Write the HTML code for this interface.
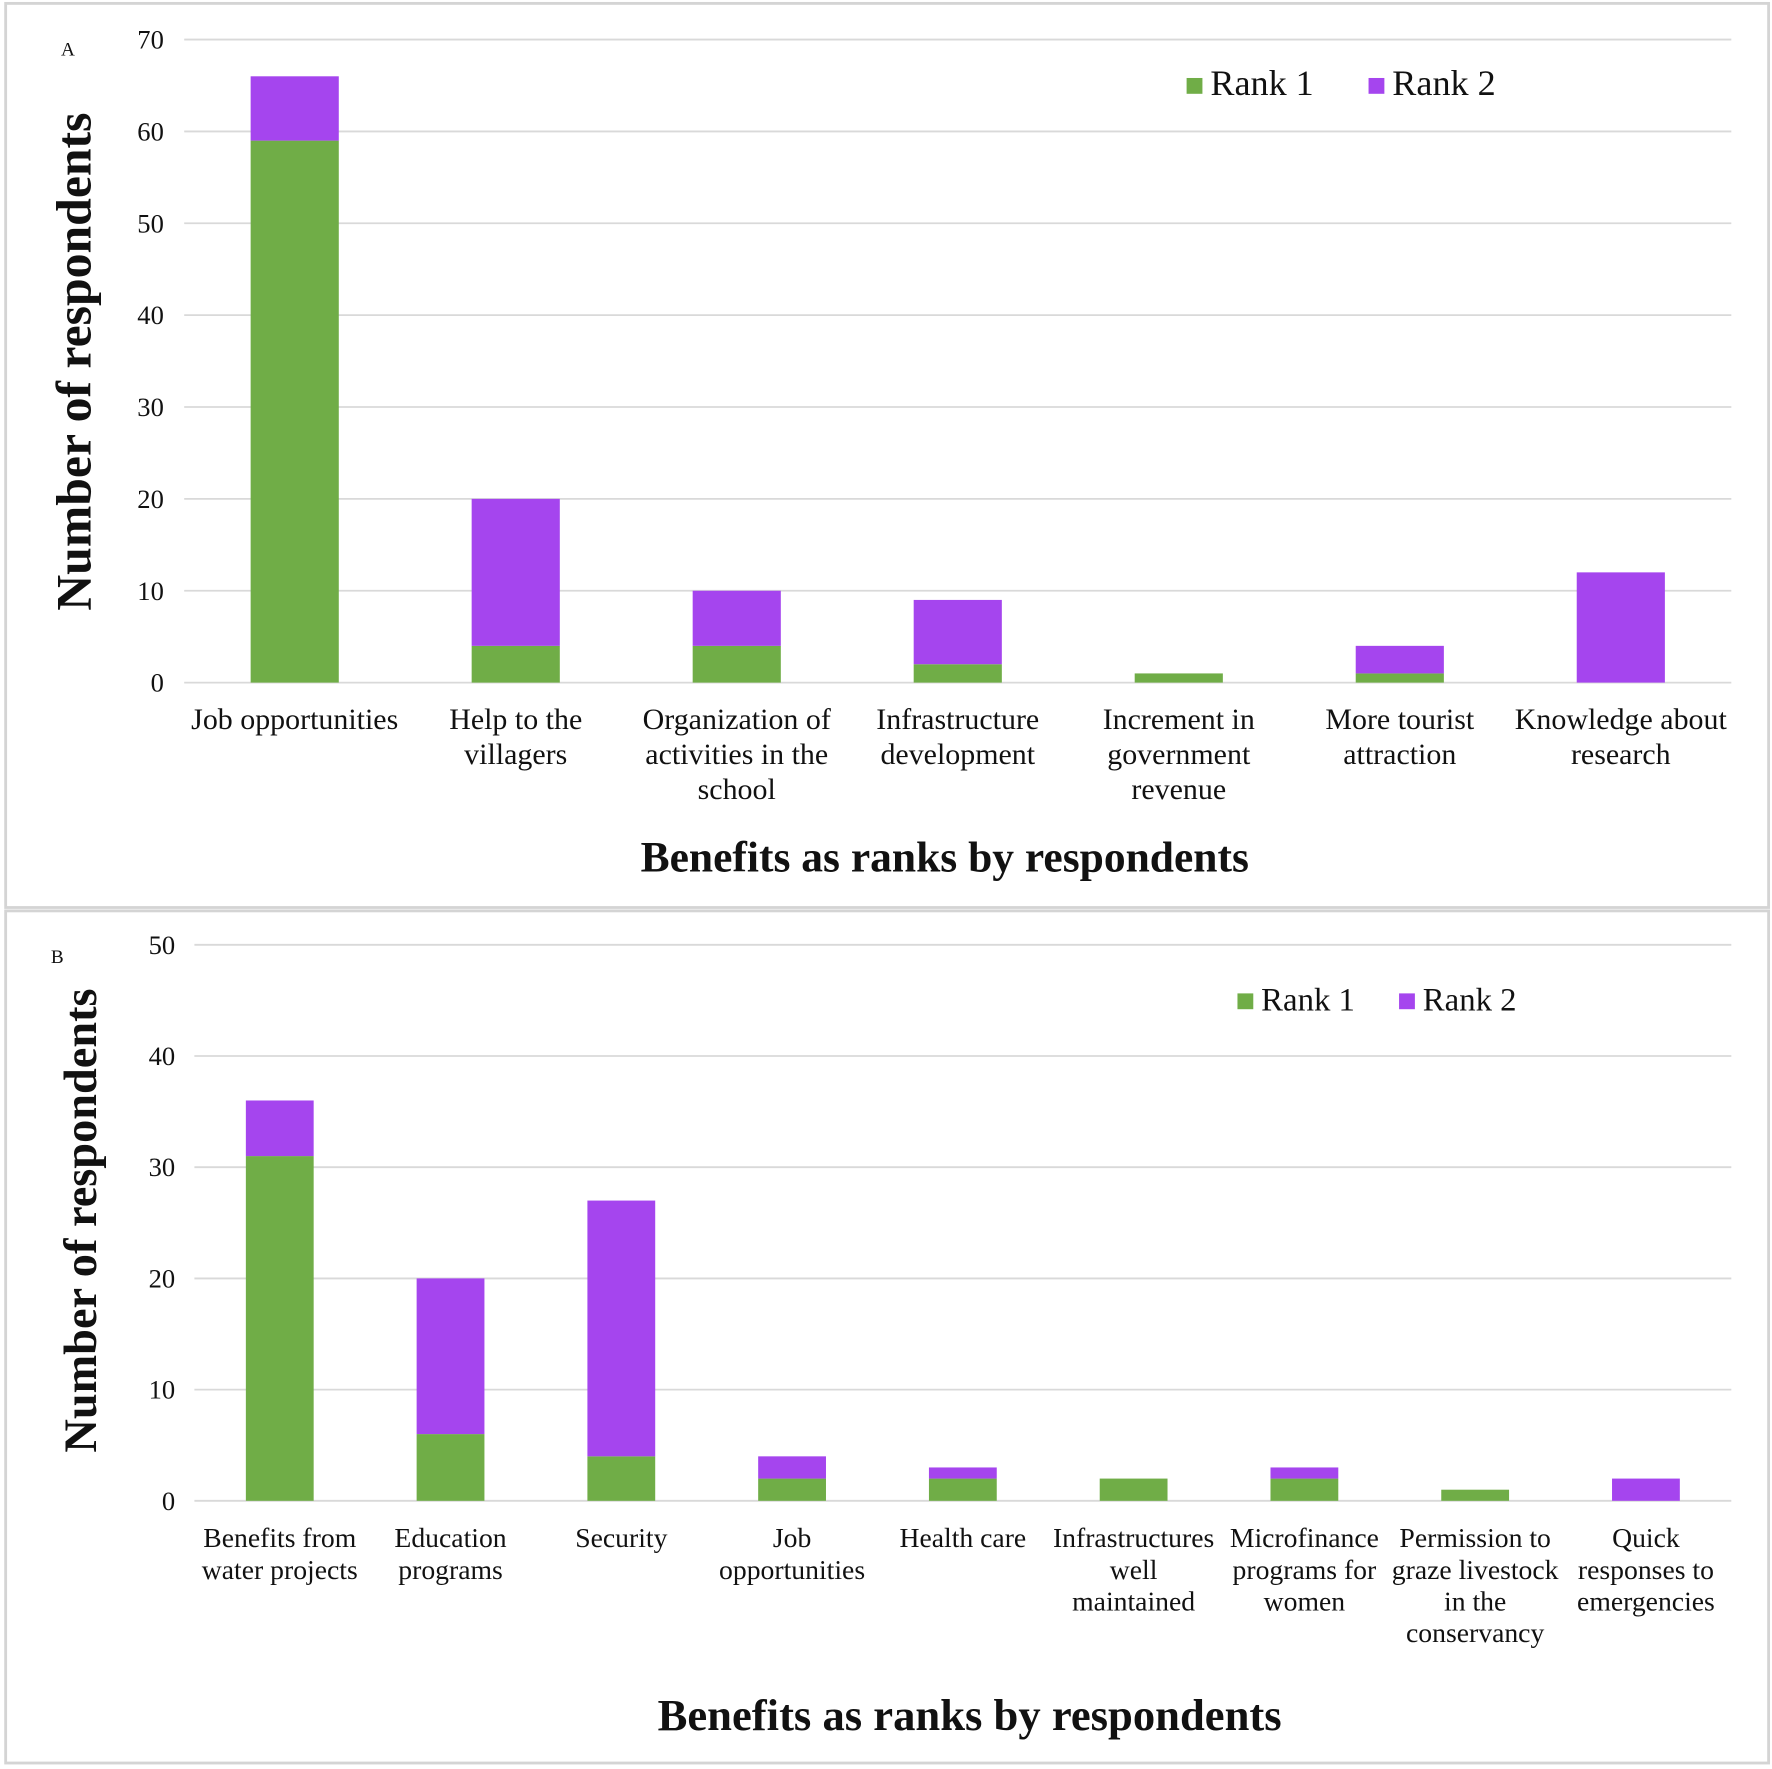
<!DOCTYPE html>
<html><head><meta charset="utf-8"><style>
html,body{margin:0;padding:0;background:#fff;width:1772px;height:1769px;overflow:hidden}
svg{display:block}
text{font-family:"Liberation Serif",serif;fill:#111}
</style></head><body>
<svg id="fig" width="1772" height="1769" viewBox="0 0 1568 1565.3" preserveAspectRatio="none" xmlns="http://www.w3.org/2000/svg">
<rect x="5" y="3" width="1560" height="800" fill="none" stroke="#d4d4d4" stroke-width="2.5"/>
<rect x="5" y="806" width="1560" height="754" fill="none" stroke="#d4d4d4" stroke-width="2.5"/>
<g id="panelA"></g>
<g id="panelB"></g>
</svg>
<script>
const catsA = [["Job opportunities"],["Help to the","villagers"],["Organization of","activities in the","school"],["Infrastructure","development"],["Increment in","government","revenue"],["More tourist","attraction"],["Knowledge about","research"]];
const rank1A = [59, 4, 4, 2, 1, 1, 0];
const rank2A = [7, 16, 6, 7, 0, 3, 12];
const ticksA = [0,10,20,30,40,50,60,70];

const catsB = [["Benefits from","water projects"],["Education","programs"],["Security"],["Job","opportunities"],["Health care"],["Infrastructures","well","maintained"],["Microfinance","programs for","women"],["Permission to","graze livestock","in the","conservancy"],["Quick","responses to","emergencies"]];
const rank1B = [31, 6, 4, 2, 2, 2, 2, 1, 0];
const rank2B = [5, 14, 23, 2, 1, 0, 1, 0, 2];
const ticksB = [0,10,20,30,40,50];

const NS = "http://www.w3.org/2000/svg";
const GREEN = "#70ad47", PURPLE = "#a545ee";
function mk(tag, attrs, parent, txt){
  const e = document.createElementNS(NS, tag);
  for (const k in attrs) e.setAttribute(k, attrs[k]);
  if (txt !== undefined) e.textContent = txt;
  parent.appendChild(e); return e;
}
function drawPanel(g, cfg){
  const {cats, r1, r2, ticks, x0, x1, y0, yTop, vmax, barW, tickX, tickFs, catFs, catY, catLH, legY, leg1X, leg2X, legFs, yTitleX, yTitleY, yTitleFs, xTitleX, xTitleY, xTitleFs, letter, letterX, letterY} = cfg;
  const yScale = v => y0 - (v / vmax) * (y0 - yTop);
  const band = (x1 - x0) / cats.length;
  const xCenter = i => x0 + band * (i + 0.5);
  ticks.forEach(t => {
    const l = mk("line", {x1:x0, x2:x1, y1:yScale(t), y2:yScale(t), stroke:"#d9d9d9", "stroke-width":1.6}, g);
    
    
    const tx = mk("text", {x:tickX, y:yScale(t)+8, "text-anchor":"end", "font-size":tickFs}, g, String(t));
    
    
  });
  cats.forEach((c, i) => {
    const cx = xCenter(i);
    if (r1[i] > 0) {
      const b = mk("rect", {x:cx-barW/2, y:yScale(r1[i]), width:barW, height:yScale(0)-yScale(r1[i]), fill:GREEN}, g);
      
      
    }
    if (r2[i] > 0) {
      const b = mk("rect", {x:cx-barW/2, y:yScale(r1[i]+r2[i]), width:barW, height:yScale(r1[i])-yScale(r1[i]+r2[i]), fill:PURPLE}, g);
      
      
    }
    const t = mk("text", {x:cx, y:catY, "text-anchor":"middle", "font-size":catFs}, g);
    
    
    c.forEach((ln, j) => mk("tspan", {x:cx, y:catY + j*catLH}, t, ln));
  });
  const s1 = mk("rect", {x:leg1X, y:legY-15, width:14, height:14, fill:GREEN}, g);
  
  
  const l1 = mk("text", {x:leg1X+21, y:legY, "font-size":legFs}, g, "Rank 1");
  
  
  const s2 = mk("rect", {x:leg2X, y:legY-15, width:14, height:14, fill:PURPLE}, g);
  
  
  const l2 = mk("text", {x:leg2X+21, y:legY, "font-size":legFs}, g, "Rank 2");
  
  
  const yt = mk("text", {x:0, y:0, "text-anchor":"middle", "font-size":yTitleFs, "font-weight":"bold", transform:`translate(${yTitleX},${yTitleY}) rotate(-90)`}, g, "Number of respondents");
  
  
  const xt = mk("text", {x:xTitleX, y:xTitleY, "text-anchor":"middle", "font-size":xTitleFs, "font-weight":"bold"}, g, "Benefits as ranks by respondents");
  
  
  const pl = mk("text", {x:letterX, y:letterY, "font-size":17}, g, letter);
  
  
}
drawPanel(document.getElementById("panelA"), {
  cats:catsA, r1:rank1A, r2:rank2A, ticks:ticksA, x0:163, x1:1532, y0:604, yTop:35, vmax:70, barW:78,
  tickX:145, tickFs:23.5, catFs:26.5, catY:645, catLH:31, legY:84, leg1X:1050, leg2X:1211, legFs:32,
  yTitleX:80, yTitleY:320, yTitleFs:44, xTitleX:836, xTitleY:771, xTitleFs:38.5, letter:"A", letterX:54, letterY:49
});
drawPanel(document.getElementById("panelB"), {
  cats:catsB, r1:rank1B, r2:rank2B, ticks:ticksB, x0:172, x1:1532, y0:1328, yTop:836, vmax:50, barW:60,
  tickX:155, tickFs:23.5, catFs:24.5, catY:1369, catLH:28, legY:894, leg1X:1095, leg2X:1238, legFs:29,
  yTitleX:85, yTitleY:1080, yTitleFs:41, xTitleX:858, xTitleY:1531, xTitleFs:39.5, letter:"B", letterX:45, letterY:852
});
</script>
</body></html>
